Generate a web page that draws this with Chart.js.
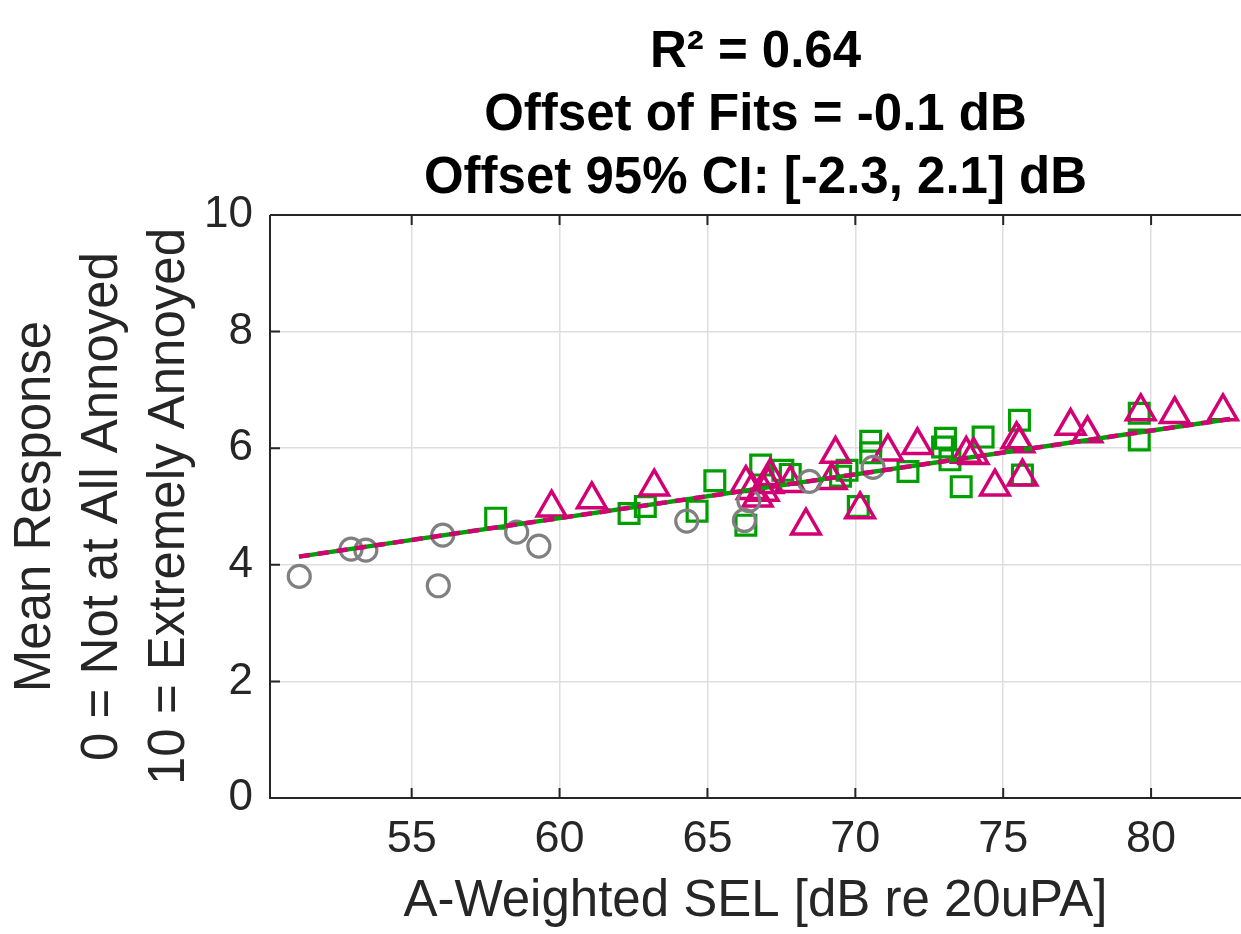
<!DOCTYPE html>
<html>
<head>
<meta charset="utf-8">
<script src="https://cdn.jsdelivr.net/npm/chart.js@4.4.0/dist/chart.umd.min.js"></script>
<style>
html,body{margin:0;padding:0;background:#fff;overflow:hidden}
#wrap{width:1241px;height:934px}
</style>
</head>
<body>
<div id="wrap"><canvas id="c" width="1241" height="934"></canvas></div>
<script>
// ---- data ----
const circleX = [51.2, 52.95, 53.45, 56.05, 55.9, 58.55, 59.3, 64.3, 66.25, 66.4, 68.45, 70.6];
const circleY = [3.80, 4.27, 4.25, 4.51, 3.64, 4.56, 4.32, 4.75, 4.76, 5.10, 5.43, 5.67];

const squareX = [57.84, 62.35, 62.9, 64.65, 65.25, 66.3, 66.8, 67.55, 67.8, 69.5, 69.72, 70.1, 70.52, 70.52, 71.78, 73.05, 73.2, 72.95, 73.58, 74.32, 75.55, 75.65, 79.6, 79.6];
const squareY = [4.80, 4.88, 5.00, 4.92, 5.44, 4.68, 5.71, 5.62, 5.55, 5.52, 5.62, 5.00, 6.12, 5.92, 5.60, 6.17, 5.80, 6.02, 5.34, 6.19, 6.48, 5.54, 6.60, 6.14];

const triX = [59.73, 61.09, 63.2, 66.3, 66.5, 66.7, 66.9, 67.06, 67.12, 67.8, 68.33, 69.2, 69.33, 70.16, 71.1, 72.1, 73.75, 74.0, 74.72, 75.45, 75.55, 75.65, 77.28, 77.85, 79.65, 80.8, 82.43];
const triY = [4.98, 5.12, 5.34, 5.40, 5.28, 5.15, 5.25, 5.38, 5.52, 5.40, 4.67, 5.45, 5.90, 4.95, 5.94, 6.05, 5.90, 5.88, 5.34, 6.15, 6.08, 5.51, 6.38, 6.25, 6.63, 6.58, 6.63];

const fitX = [51.19, 82.67];
const fitGreenY = [4.14, 6.50];
const fitMagentaY = [4.14, 6.50];

const xTicks = [55, 60, 65, 70, 75, 80];
const yTicks = [0, 2, 4, 6, 8, 10];
const xRange = [50.21, 83.04];
const yRange = [0, 10];

const titleLines = ['R\u00B2 = 0.64', 'Offset of Fits = -0.1 dB', 'Offset 95% CI: [-2.3, 2.1] dB'];
const xTitle = 'A-Weighted SEL [dB re 20uPA]';
const yTitle = ['Mean Response', '0 = Not at All Annoyed', '10 = Extremely Annoyed'];

// ---- helpers ----
const pts = (xs, ys) => xs.map((x, i) => ({x: x, y: ys[i]}));
const FONT = '"Liberation Sans", Arial, Helvetica, sans-serif';
const TXT = '#262626';
const GREEN = 'rgb(0,158,0)';
const MAGENTA = 'rgb(210,0,116)';
const GRAY = 'rgb(128,128,128)';

const framePlugin = {
  id: 'frame',
  afterDatasetsDraw(chart) {
    const {ctx, chartArea: a, scales: {x, y}} = chart;
    ctx.save();
    ctx.strokeStyle = TXT;
    ctx.lineWidth = 2;
    ctx.beginPath();
    ctx.moveTo(a.left, a.top); ctx.lineTo(a.right, a.top);
    ctx.moveTo(a.left, a.top); ctx.lineTo(a.left, a.bottom);
    ctx.lineTo(a.right, a.bottom);
    const L = 10;
    xTicks.forEach(v => {
      const px = x.getPixelForValue(v);
      ctx.moveTo(px, a.bottom); ctx.lineTo(px, a.bottom - L);
      ctx.moveTo(px, a.top); ctx.lineTo(px, a.top + L);
    });
    yTicks.forEach(v => {
      const py = y.getPixelForValue(v);
      ctx.moveTo(a.left, py); ctx.lineTo(a.left + L, py);
    });
    ctx.stroke();
    ctx.restore();
  }
};

new Chart(document.getElementById('c'), {
  type: 'scatter',
  data: {
    datasets: [
      {label: 'circles', order: 2, data: pts(circleX, circleY), pointStyle: 'circle', pointRadius: 11, pointHoverRadius: 11,
       borderColor: GRAY, backgroundColor: 'rgba(0,0,0,0)', pointBorderWidth: 3.2, borderWidth: 3.2},
      {label: 'squares', order: 4, data: pts(squareX, squareY), pointStyle: 'rect', pointRadius: 14, pointHoverRadius: 14,
       borderColor: GREEN, backgroundColor: 'rgba(0,0,0,0)', pointBorderWidth: 3.2, borderWidth: 3.2},
      {label: 'triangles', order: 3, data: pts(triX, triY), pointStyle: 'triangle', pointRadius: 16.5, pointHoverRadius: 16.5,
       borderColor: MAGENTA, backgroundColor: 'rgba(0,0,0,0)', pointBorderWidth: 3.5, borderWidth: 3.5},
      {type: 'line', label: 'fitGreen', order: 1, data: pts(fitX, fitGreenY), borderColor: GREEN, borderWidth: 4.5,
       pointRadius: 0, fill: false, showLine: true},
      {type: 'line', label: 'fitMagenta', order: 0, data: pts(fitX, fitMagentaY), borderColor: MAGENTA, borderWidth: 4.5,
       borderDash: [11, 8], pointRadius: 0, fill: false, showLine: true}
    ]
  },
  options: {
    responsive: false,
    animation: false,
    layout: {autoPadding: false, padding: {left: 0, right: 0, top: 0, bottom: 0}},
    plugins: {
      legend: {display: false},
      tooltip: {enabled: false},
      title: {
        display: true,
        text: titleLines,
        fullSize: false,
        color: '#000',
        font: {family: FONT, size: 51, weight: 'bold', lineHeight: 1.235},
        padding: {top: 21, bottom: 5}
      }
    },
    scales: {
      x: {
        type: 'linear',
        min: xRange[0], max: xRange[1],
        afterFit(s) { s.height = 136; s.paddingLeft = 0; s.paddingRight = 0; },
        afterBuildTicks(s) { s.ticks = xTicks.map(v => ({value: v})); },
        grid: {color: '#dedede', lineWidth: 1.5, drawTicks: false},
        border: {display: false},
        ticks: {color: TXT, font: {family: FONT, size: 45}, padding: 15, maxRotation: 0, autoSkip: false},
        title: {display: true, text: xTitle, color: TXT, font: {family: FONT, size: 51, lineHeight: 1.2}, padding: {top: 0, bottom: 1}}
      },
      y: {
        type: 'linear',
        min: yRange[0], max: yRange[1],
        afterFit(s) { s.width = 270; s.paddingTop = 0; s.paddingBottom = 0; },
        afterBuildTicks(s) { s.ticks = yTicks.map(v => ({value: v})); },
        grid: {color: '#dedede', lineWidth: 1.5, drawTicks: false},
        border: {display: false},
        ticks: {color: TXT, font: {family: FONT, size: 44}, padding: 17},
        title: {display: true, text: yTitle, color: TXT, font: {family: FONT, size: 51, lineHeight: 1.32}, padding: {top: 2, bottom: 0}}
      }
    }
  },
  plugins: [framePlugin]
});
</script>
</body>
</html>
